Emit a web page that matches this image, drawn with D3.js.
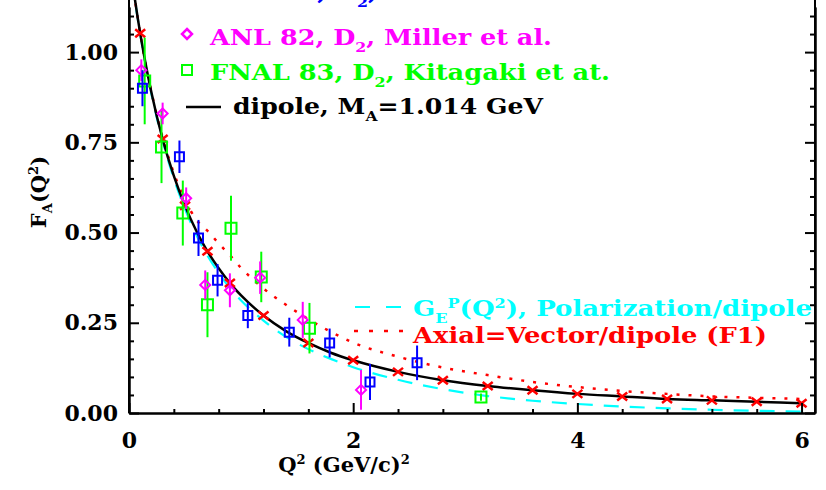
<!DOCTYPE html>
<html>
<head>
<meta charset="utf-8">
<script src="https://cdn.jsdelivr.net/npm/d3@7"></script>
<style>
  html, body { margin: 0; padding: 0; background: #fff; }
  svg { display: block; }
  text { font-family: "DejaVu Serif", serif; font-weight: bold; }
</style>
</head>
<body>
<svg id="chart" width="826" height="490"></svg>
<script>
// Q^2 grid (GeV/c)^2 shared by the three curves
const curveQ2 = [0, 0.05, 0.1, 0.15, 0.2, 0.3, 0.4, 0.5, 0.6, 0.7, 0.8, 0.9, 1.0, 1.2, 1.4, 1.6, 1.8, 2.0, 2.4, 2.8, 3.2, 3.6, 4.0, 4.4, 4.8, 5.2, 5.6, 6.0];
// dipole, M_A = 1.014 GeV
const dipoleFA = [1.267, 1.152, 1.052, 0.965, 0.888, 0.759, 0.657, 0.574, 0.505, 0.448, 0.401, 0.360, 0.326, 0.270, 0.227, 0.194, 0.167, 0.146, 0.114, 0.091, 0.075, 0.063, 0.053, 0.046, 0.039, 0.035, 0.031, 0.027];
// G_E^p polarization / dipole shape
const polarizationFA = [1.267, 1.150, 1.050, 0.962, 0.884, 0.754, 0.650, 0.565, 0.494, 0.436, 0.388, 0.346, 0.312, 0.256, 0.211, 0.177, 0.150, 0.127, 0.092, 0.066, 0.047, 0.034, 0.025, 0.018, 0.013, 0.009, 0.006, 0.004];
// Axial = Vector / dipole (F1)
const axialVectorFA = [1.267, 1.152, 1.052, 0.965, 0.890, 0.763, 0.665, 0.590, 0.536, 0.505, 0.470, 0.437, 0.402, 0.345, 0.300, 0.260, 0.225, 0.195, 0.156, 0.126, 0.105, 0.086, 0.072, 0.061, 0.053, 0.046, 0.042, 0.039];

// red crosses along the dipole
const crossQ2 = [0.1, 0.3, 0.5, 0.7, 0.9, 1.2, 1.6, 2.0, 2.4, 2.8, 3.2, 3.6, 4.0, 4.4, 4.8, 5.2, 5.6, 6.0];
const crossFA = [1.052, 0.759, 0.574, 0.448, 0.360, 0.270, 0.194, 0.146, 0.114, 0.091, 0.075, 0.063, 0.053, 0.046, 0.039, 0.035, 0.031, 0.027];

// ANL 82, D2, Miller et al.
const anlQ2  = [0.11, 0.30, 0.51, 0.68, 0.90, 1.17, 1.55, 2.07];
const anlFA  = [0.950, 0.830, 0.595, 0.355, 0.340, 0.375, 0.258, 0.064];
const anlErr = [0.030, 0.030, 0.030, 0.040, 0.047, 0.045, 0.050, 0.055];

// FNAL 83, D2, Kitagaki et al.
const fnalQ2  = [0.14, 0.29, 0.48, 0.70, 0.91, 1.18, 1.61, 3.14];
const fnalFA  = [0.920, 0.737, 0.554, 0.300, 0.512, 0.377, 0.235, 0.044];
const fnalErr = [0.120, 0.100, 0.090, 0.090, 0.090, 0.070, 0.070, 0.010];

// BNL 81, D2, Baker et al.
const bnlQ2  = [0.12, 0.45, 0.62, 0.79, 1.06, 1.43, 1.79, 2.15, 2.57];
const bnlFA  = [0.900, 0.710, 0.485, 0.368, 0.270, 0.224, 0.194, 0.086, 0.139];
const bnlErr = [0.050, 0.045, 0.050, 0.045, 0.035, 0.040, 0.040, 0.050, 0.048];

// axis ticks
const xMajorTicks = [0, 2, 4, 6];
const xMinorTicks = [0.4, 0.8, 1.2, 1.6, 2.4, 2.8, 3.2, 3.6, 4.4, 4.8, 5.2, 5.6];
const yMajorTicks = [0, 0.25, 0.5, 0.75, 1.0];
const yMinorTicks = [0.05, 0.1, 0.15, 0.2, 0.3, 0.35, 0.4, 0.45, 0.55, 0.6, 0.65, 0.7, 0.8, 0.85, 0.9, 0.95, 1.05, 1.1];

const COLORS = { anl: "#ff00ff", fnal: "#00ff00", bnl: "#0000ff", red: "#ff0000", cyan: "#00ffff", black: "#000000" };

const svg = d3.select("#chart");
svg.append("rect").attr("width", 826).attr("height", 490).attr("fill", "#fff");

const plotL = 129, plotR = 815, plotT = 7, plotB = 413;
const x = d3.scaleLinear().domain([0, 6.12]).range([plotL, plotR]);
const y = d3.scaleLinear().domain([0, 1.125]).range([plotB, plotT]);

svg.append("defs").append("clipPath").attr("id", "plot")
  .append("rect").attr("x", plotL).attr("y", 0).attr("width", plotR - plotL).attr("height", plotB);

const plot = svg.append("g").attr("clip-path", "url(#plot)");

// curves
const line = d3.line().x(d => x(d[0])).y(d => y(d[1])).curve(d3.curveMonotoneX);
const pairs = vals => curveQ2.map((q, i) => [q, vals[i]]);

plot.append("path").attr("d", line(pairs(polarizationFA)))
  .attr("fill", "none").attr("stroke", COLORS.cyan).attr("stroke-width", 2.2)
  .attr("stroke-dasharray", "15,11");
plot.append("path").attr("d", line(pairs(axialVectorFA)))
  .attr("fill", "none").attr("stroke", COLORS.red).attr("stroke-width", 2.5)
  .attr("stroke-dasharray", "3,9");
plot.append("path").attr("d", line(pairs(dipoleFA)))
  .attr("fill", "none").attr("stroke", COLORS.black).attr("stroke-width", 2.5);

// marker shapes
const crossPath = "M-5,-4L5,4M-5,4L5,-4";
const rhombusPath = "M0,-5L5,0L0,5L-5,0Z";
const squarePath = s => `M${-s},${-s}H${s}V${s}H${-s}Z`;

// red crosses
plot.selectAll(".cross").data(crossQ2).join("path")
  .attr("transform", (q, i) => `translate(${x(q)},${y(crossFA[i])})`)
  .attr("d", crossPath).attr("stroke", COLORS.red).attr("stroke-width", 2.5).attr("fill", "none");

// data sets with vertical error bars
function drawSet(qs, vs, es, color, shape) {
  const g = plot.append("g");
  g.selectAll("line").data(qs).join("line")
    .attr("x1", q => x(q)).attr("x2", q => x(q))
    .attr("y1", (q, i) => y(vs[i] - es[i])).attr("y2", (q, i) => y(vs[i] + es[i]))
    .attr("stroke", color).attr("stroke-width", 2);
  g.selectAll("path").data(qs).join("path")
    .attr("transform", (q, i) => `translate(${x(q)},${y(vs[i])})`)
    .attr("d", shape)
    .attr("fill", "none").attr("stroke", color).attr("stroke-width", 2);
}
drawSet(fnalQ2, fnalFA, fnalErr, COLORS.fnal, squarePath(5.5));
drawSet(anlQ2, anlFA, anlErr, COLORS.anl, rhombusPath);
drawSet(bnlQ2, bnlFA, bnlErr, COLORS.bnl, squarePath(4.5));

// axes
function styleAxis(g) {
  g.selectAll("path.domain").attr("stroke", "#000").attr("stroke-width", 2);
  g.selectAll(".tick line").attr("stroke", "#000").attr("stroke-width", 2);
  g.selectAll("text").attr("font-size", 22).attr("fill", "#000")
    .style("font-family", '"DejaVu Serif", serif').style("font-weight", "bold");
}
svg.append("g").attr("transform", `translate(0,${plotB})`)
  .call(d3.axisBottom(x).tickValues(xMinorTicks).tickSize(-4).tickFormat("").tickSizeOuter(0))
  .call(styleAxis);
svg.append("g").attr("transform", `translate(0,${plotB})`)
  .call(d3.axisBottom(x).tickValues(xMajorTicks).tickSize(-10).tickPadding(19).tickFormat(d3.format("d")).tickSizeOuter(0))
  .call(styleAxis);

svg.append("g").attr("transform", `translate(${plotL},0)`)
  .call(d3.axisLeft(y).tickValues(yMinorTicks).tickSize(-5).tickFormat("").tickSizeOuter(0))
  .call(styleAxis);
svg.append("g").attr("transform", `translate(${plotL},0)`)
  .call(d3.axisLeft(y).tickValues(yMajorTicks).tickSize(-10).tickPadding(11).tickFormat(d3.format(".2f")).tickSizeOuter(0))
  .call(styleAxis);
svg.append("g").attr("transform", `translate(${plotR},0)`)
  .call(d3.axisRight(y).tickValues(yMinorTicks).tickSize(-5).tickFormat("").tickSizeOuter(0))
  .call(styleAxis);
svg.append("g").attr("transform", `translate(${plotR},0)`)
  .call(d3.axisRight(y).tickValues(yMajorTicks).tickSize(-10).tickFormat("").tickSizeOuter(0))
  .call(styleAxis);
// side frame lines run up to the top edge
svg.append("line").attr("x1", plotL).attr("x2", plotL).attr("y1", 0).attr("y2", plotB).attr("stroke", "#000").attr("stroke-width", 2);
svg.append("line").attr("x1", plotR).attr("x2", plotR).attr("y1", 0).attr("y2", plotB).attr("stroke", "#000").attr("stroke-width", 2);

// text with sub/superscripts
function richText(parent, px, py, parts, opts) {
  const t = parent.append("text").attr("x", px).attr("y", py)
    .attr("font-size", opts.size).attr("fill", opts.color);
  if (opts.length) t.attr("textLength", opts.length).attr("lengthAdjust", "spacingAndGlyphs");
  if (opts.rotate) t.attr("transform", `rotate(${opts.rotate},${px},${py})`).attr("text-anchor", "middle");
  if (opts.anchor) t.attr("text-anchor", opts.anchor);
  let level = 0;
  parts.forEach(p => {
    const shift = p.sub ? opts.size * 0.3 : p.sup ? -opts.size * 0.38 : 0;
    const s = t.append("tspan").text(p.t).attr("dy", shift - level);
    if (p.sub || p.sup) s.attr("font-size", opts.size * 0.62);
    level = shift;
  });
  return t;
}

// upper legend (first entry runs off the top edge)
const legend = svg.append("g");
richText(legend, 210, 0, [{ t: "BNL 81, D" }, { t: "2", sub: true }, { t: ", Baker et al." }], { size: 22, color: COLORS.bnl, length: 342 });
legend.append("path").attr("transform", "translate(187,34)")
  .attr("d", rhombusPath).attr("fill", "none").attr("stroke", COLORS.anl).attr("stroke-width", 2.5);
richText(legend, 210, 45, [{ t: "ANL 82, D" }, { t: "2", sub: true }, { t: ", Miller et al." }], { size: 22, color: COLORS.anl, length: 342 });
legend.append("path").attr("transform", "translate(187,70)")
  .attr("d", squarePath(5)).attr("fill", "none").attr("stroke", COLORS.fnal).attr("stroke-width", 2);
richText(legend, 210, 80, [{ t: "FNAL 83, D" }, { t: "2", sub: true }, { t: ", Kitagaki et at." }], { size: 22, color: COLORS.fnal, length: 400 });
legend.append("line").attr("x1", 186).attr("x2", 221).attr("y1", 107).attr("y2", 107).attr("stroke", "#000").attr("stroke-width", 2.5);
richText(legend, 233, 114, [{ t: "dipole, M" }, { t: "A", sub: true }, { t: "=1.014 GeV" }], { size: 22, color: "#000", length: 310 });

// lower legend
legend.append("line").attr("x1", 355).attr("x2", 401).attr("y1", 307).attr("y2", 307)
  .attr("stroke", COLORS.cyan).attr("stroke-width", 2.2).attr("stroke-dasharray", "15,16");
richText(legend, 413, 316, [{ t: "G" }, { t: "E", sub: true }, { t: "P", sup: true }, { t: "(Q" }, { t: "2", sup: true }, { t: "), Polarization/dipole" }], { size: 22, color: COLORS.cyan, length: 399 });
legend.append("line").attr("x1", 354).attr("x2", 404).attr("y1", 331).attr("y2", 331)
  .attr("stroke", COLORS.red).attr("stroke-width", 2.5).attr("stroke-dasharray", "4,11");
richText(legend, 413, 343, [{ t: "Axial=Vector/dipole (F1)" }], { size: 22, color: COLORS.red, length: 354 });

// axis titles
richText(svg, 344, 472, [{ t: "Q" }, { t: "2", sup: true }, { t: " (GeV/c)" }, { t: "2", sup: true }], { size: 21, color: "#000", anchor: "middle" });
richText(svg, 46, 192, [{ t: "F" }, { t: "A", sub: true }, { t: "(Q" }, { t: "2", sup: true }, { t: ")" }], { size: 21, color: "#000", rotate: -90 });
</script>
</body>
</html>
